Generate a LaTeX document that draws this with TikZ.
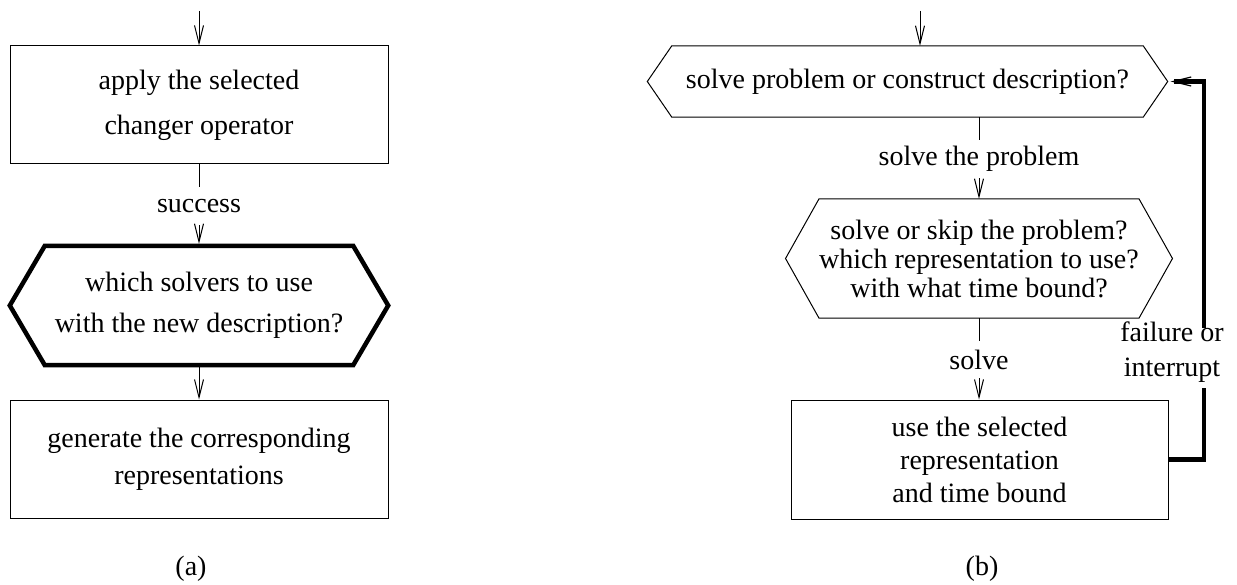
\documentclass[tikz,border=0pt]{standalone}
\usepackage{fontspec}
\setmainfont{Liberation Serif}
\usetikzlibrary{arrows.meta}

\begin{document}
\begin{tikzpicture}[x=1pt, y=-1pt,
    every node/.style={font=\fontsize{28}{33}\selectfont, align=center},
    thin line/.style={line width=1pt},
    flow/.style={thin line, -{Straight Barb[length=18pt,width=9pt,line width=1pt]}},
    box/.style={draw, thin line, rectangle, inner sep=0pt},
    hexbody/.style={rectangle, inner sep=0pt},
    edgelabel/.style={inner sep=0pt},
    feedback/.style={line width=4.5pt, line join=miter}
  ]
  \useasboundingbox (0,0) rectangle (1237,585);

  % ---------------- (a) ----------------
  \coordinate (ta) at (199,11);
  \node[box, minimum width=378pt, minimum height=118pt] (b1) at (199,105)
    {apply the selected\\[12pt]changer operator};
  \node[edgelabel, minimum height=38pt] (succ) at (199,206) {success};
  \node[hexbody, minimum width=308pt, minimum height=119pt] (ha) at (199,305.5)
    {which solvers to use\\[8pt]with the new description?};
  \draw[line width=4.5pt, line join=miter]
    (ha.north west) -- (ha.north east) -- ([xshift=35pt]ha.east)
    -- (ha.south east) -- (ha.south west) -- ([xshift=-35pt]ha.west) -- cycle;
  \node[box, minimum width=378pt, minimum height=118pt] (b3) at (199,459)
    {generate the corresponding\\[4pt]representations};
  \node (capa) at (191,569) {(a)};

  \draw[flow] (ta) -- (b1.north);
  \draw[thin line] (b1.south) -- (succ.north);
  \draw[flow] (succ.south) -- ([yshift=2pt]ha.north);
  \draw[flow] ([yshift=-2pt]ha.south) -- (b3.north);

  % ---------------- (b) ----------------
  \coordinate (tb) at (920,11);
  \node[hexbody, minimum width=471pt, minimum height=71pt] (h1) at (907.5,81.5)
    {solve problem or construct description?};
  \coordinate (h1tip) at ([xshift=24.5pt]h1.east);
  \draw[thin line]
    (h1.north west) -- (h1.north east) -- (h1tip)
    -- (h1.south east) -- (h1.south west) -- ([xshift=-24.5pt]h1.west) -- cycle;

  \node[edgelabel, minimum height=38pt] (sp) at (979,159) {solve the problem};

  \node[hexbody, minimum width=310pt, minimum height=119pt] (h2) at (979,258.5)
    {solve or skip the problem?\\[-4pt]which representation to use?\\[-4pt]with what time bound?};
  \draw[thin line]
    (h2.north west) -- (h2.north east) -- ([xshift=33.5pt]h2.east)
    -- (h2.south east) -- (h2.south west) -- ([xshift=-33.5pt]h2.west) -- cycle;

  \node[edgelabel, minimum height=37pt] (sv) at (979,359.5) {solve};

  \node[box, minimum width=377pt, minimum height=119pt] (b4) at (979.5,459.5)
    {use the selected\\representation\\and time bound};

  \node[edgelabel] (fl) at (1172,352.5) {failure or\\[2pt]interrupt};
  \node (capb) at (982,569) {(b)};

  \draw[flow] (tb) -- (tb |- h1.north);
  \draw[thin line] (h1.south -| sp) -- (sp.north);
  \draw[flow] (sp.south) -- (h2.north -| sp);
  \draw[thin line] (h2.south -| sv) -- (sv.north);
  \draw[flow] (sv.south) -- (b4.north -| sv);

  % loop back from the solver box to the first decision
  \coordinate (fbLow) at (1204,459.5);
  \coordinate (gapLow) at (1204,388);
  \coordinate (gapHigh) at (1204,328);
  \coordinate (fbHigh) at (1204,81.5);
  \draw[feedback] (b4.east) -- (fbLow) -- (gapLow);
  \draw[feedback, -{Straight Barb[length=18pt,width=9pt,line width=1.2pt]}]
    (gapHigh) -- (fbHigh) -- ([xshift=3pt]h1tip);
\end{tikzpicture}
\end{document}
